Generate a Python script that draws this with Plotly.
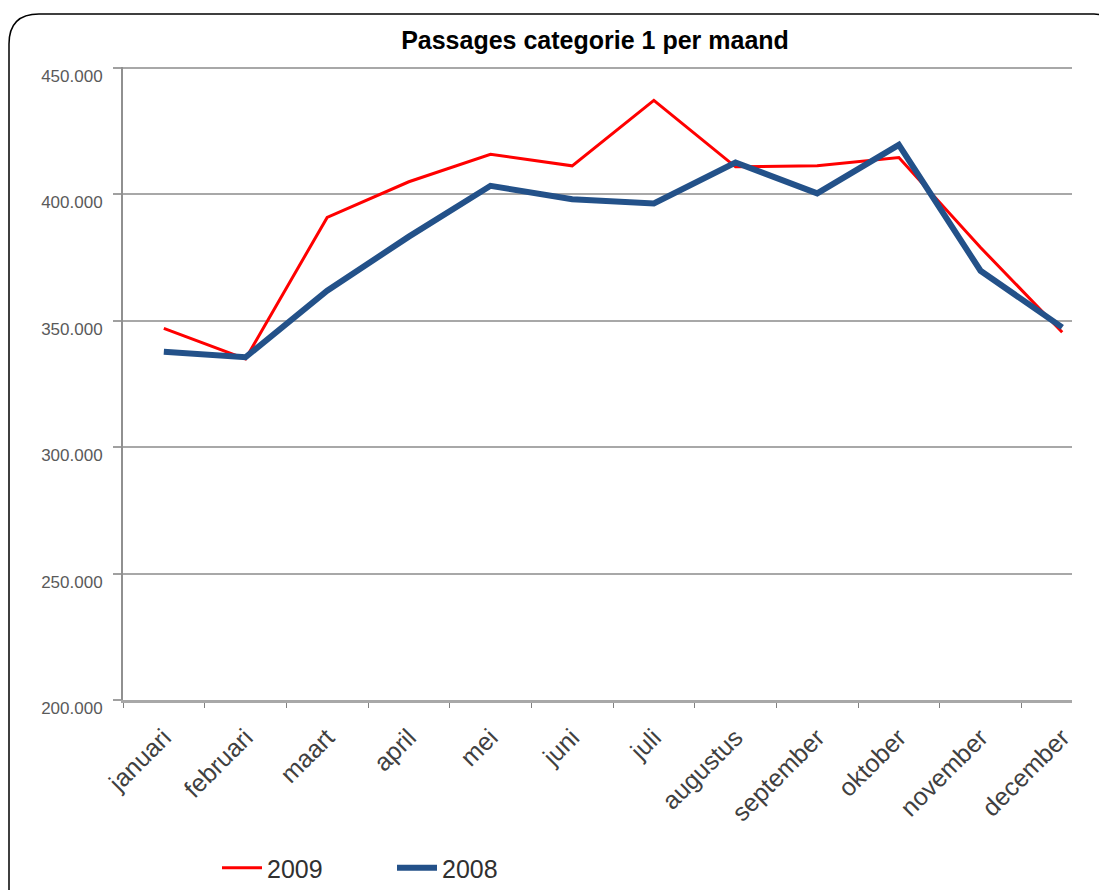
import plotly.graph_objects as go

# data
maanden = ['januari', 'februari', 'maart', 'april', 'mei', 'juni', 'juli',
           'augustus', 'september', 'oktober', 'november', 'december']
passages_2009 = [347000, 334900, 390900, 405000, 415900, 411300, 437200,
                 410900, 411300, 414600, 379000, 345500]
passages_2008 = [337800, 335600, 361900, 383300, 403400, 398100, 396400,
                 412600, 400400, 419600, 369800, 347400]
y_ticks = [200000, 250000, 300000, 350000, 400000, 450000]

W, H = 1107, 890
OFF = 8  # the page body puts the figure 8px in from the window edge
ML, MR, MT, MB = 123 - OFF, 35 + OFF, 67 - OFF, 190 + OFF
PW, PH = W - ML - MR, H - MT - MB


def px(x, y):
    # window pixel position -> paper coordinates
    return (x - OFF - ML) / PW, (H - MB - (y - OFF)) / PH


fig = go.Figure()

fig.add_trace(go.Scatter(
    x=maanden, y=passages_2009, mode='lines', name='2009',
    line=dict(color='#FF0000', width=3)
))
fig.add_trace(go.Scatter(
    x=maanden, y=passages_2008, mode='lines', name='2008',
    line=dict(color='#235189', width=6)
))

# rounded frame around the chart (runs off the canvas on the right and bottom)
r = 30
x0, y0 = px(9, 14)
xc, yc = px(9 + r, 14 + r)
_, y_bot = px(9, 910)
x_right, _ = px(1094, 14)
x_end, y_end = px(1112, 24)
path = (f'M {x0},{y_bot} L {x0},{yc} Q {x0},{y0} {xc},{y0} '
        f'L {x_right},{y0} Q {x_end - 0.005},{y0} {x_end},{y_end}')
fig.add_shape(type='path', path=path, xref='paper', yref='paper',
              line=dict(color='black', width=1.5), layer='below')

tx, _ = px(595, 40)

fig.update_layout(
    width=W, height=H,
    margin=dict(l=ML, r=MR, t=MT, b=MB, autoexpand=False),
    paper_bgcolor='white', plot_bgcolor='white',
    separators=',.',
    font=dict(family='Liberation Sans, Arial, sans-serif', color='#404040'),
    title=dict(text='<b>Passages categorie 1 per maand</b>',
               x=tx, xref='paper', y=1 - (40 - OFF) / H, yref='container',
               xanchor='center', yanchor='middle',
               font=dict(size=25, color='black')),
    showlegend=True,
    legend=dict(orientation='h', xref='container', yref='container',
                x=(217 - OFF) / W, y=1 - (868 - OFF) / H,
                xanchor='left', yanchor='middle',
                font=dict(size=25, color='#303030'), entrywidth=120,
                entrywidthmode='pixels', itemwidth=40, bgcolor='rgba(0,0,0,0)'),
    hovermode=False,
)

fig.update_xaxes(
    type='category', range=[-0.5, 11.12], automargin=False,
    tickson='boundaries', ticks='outside', ticklen=5, tickwidth=1, tickcolor='#808080',
    tickangle=-45, tickfont=dict(size=25, color='#404040'), ticklabelstandoff=10,
    showgrid=False, showline=True, linecolor='#A8A8A8', linewidth=3,
    zeroline=False
)
fig.update_yaxes(
    range=[200000, 450400], tickvals=y_ticks, tickformat=',.0f', automargin=False,
    ticks='outside', ticklen=8, tickwidth=2, tickcolor='#A0A0A0',
    tickfont=dict(size=17, color='#5A5A5A'),
    ticklabelstandoff=7, ticklabelshift=8,
    showgrid=True, gridcolor='#A8A8A8', gridwidth=2,
    showline=True, linecolor='#909090', linewidth=2,
    zeroline=False
)

fig.write_html('out.html')
